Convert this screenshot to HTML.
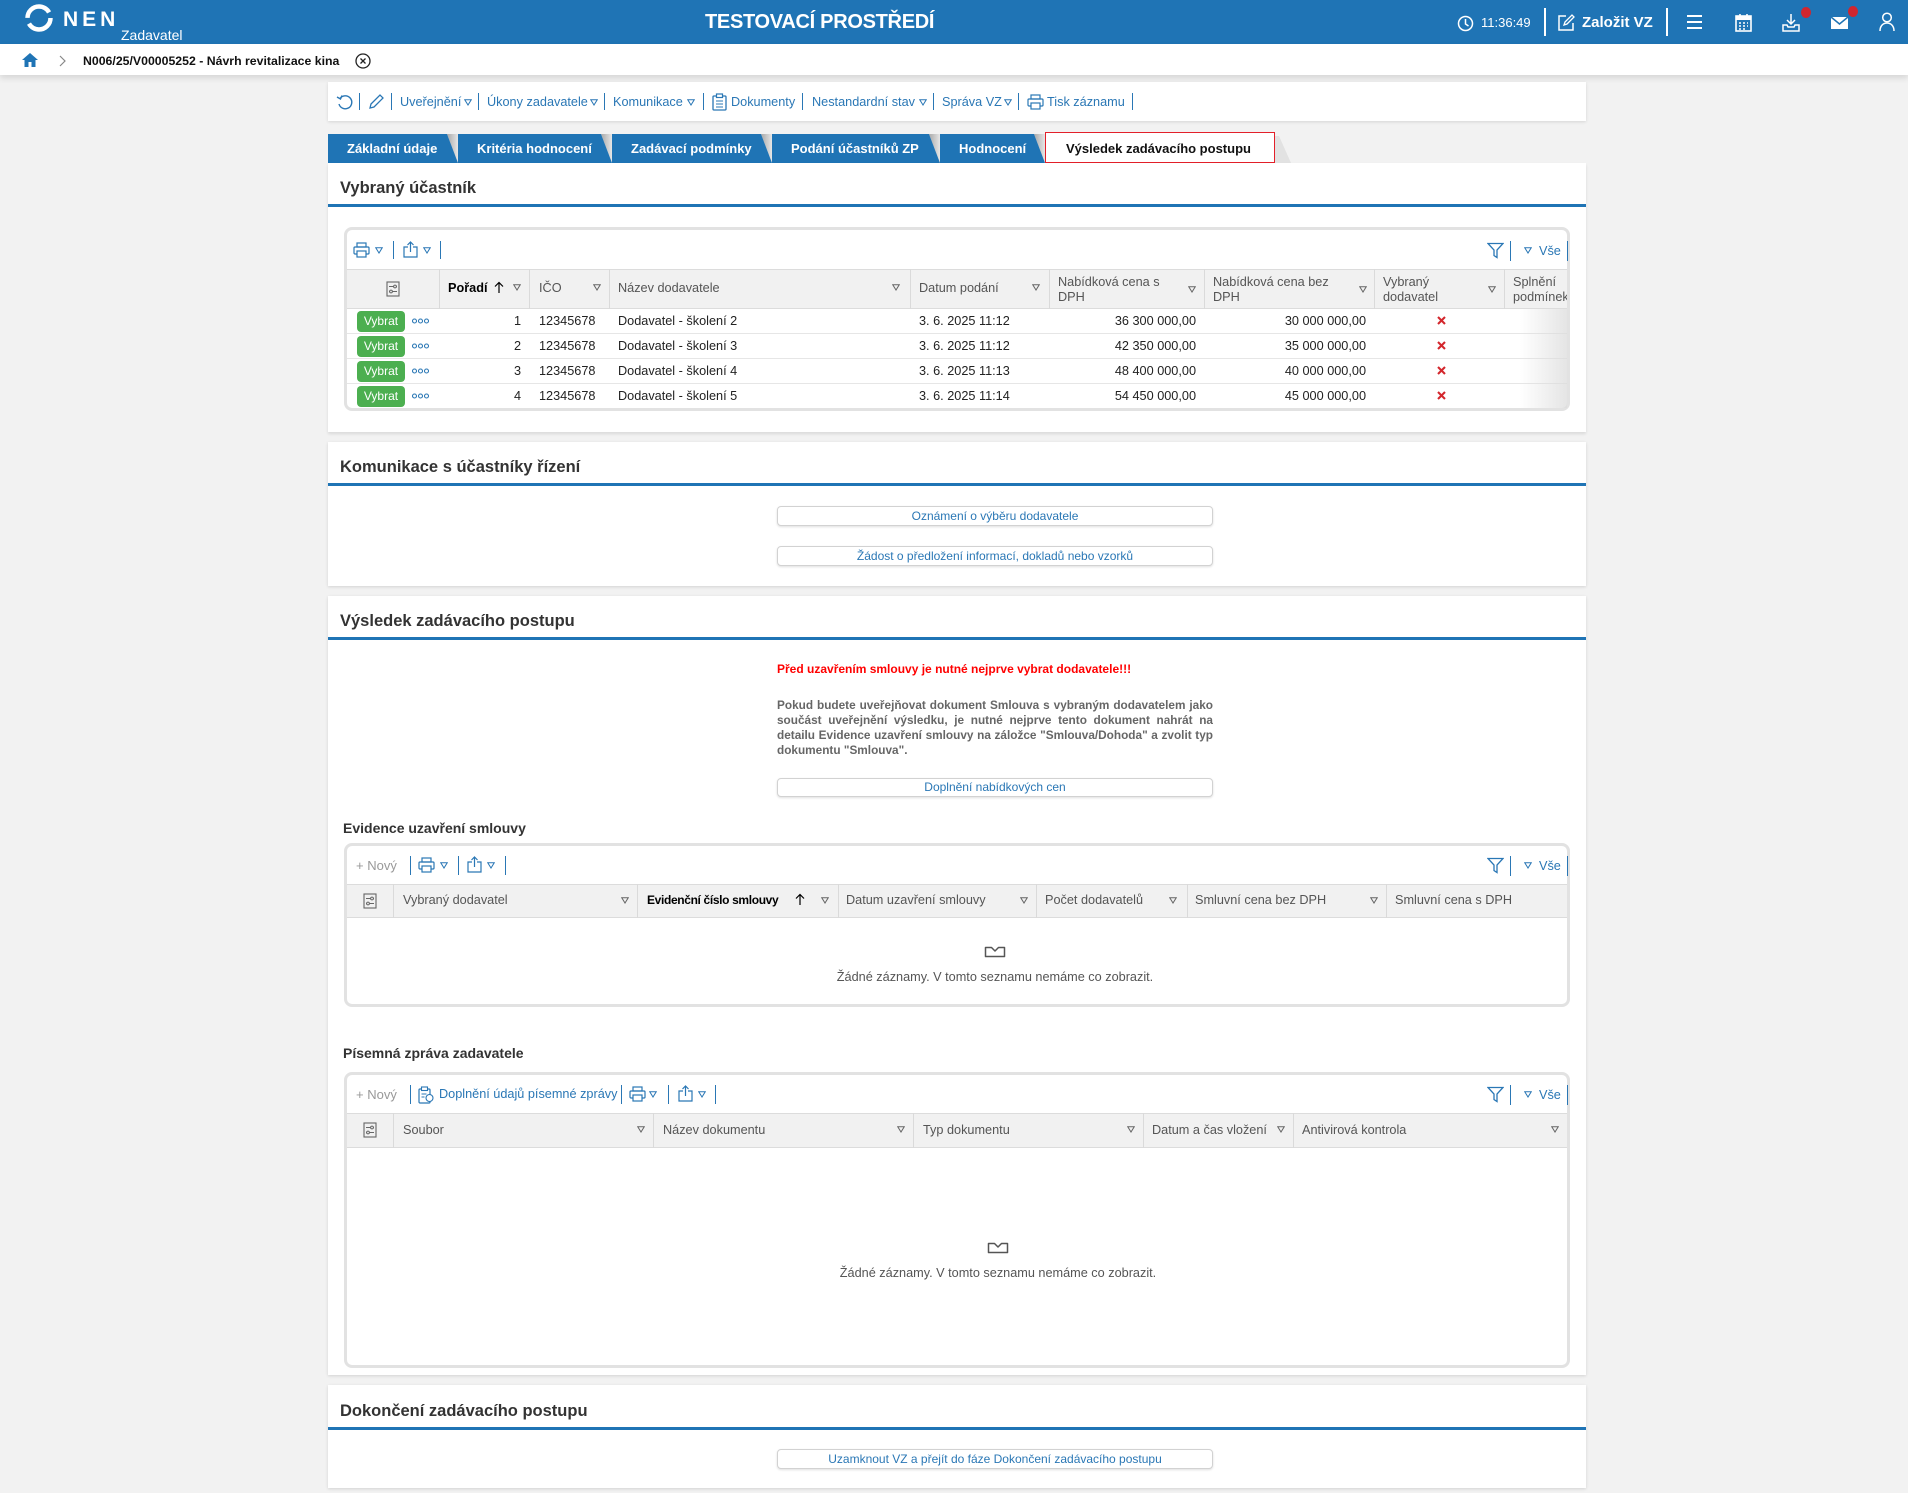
<!DOCTYPE html>
<html><head><meta charset="utf-8">
<style>
*{box-sizing:border-box;margin:0;padding:0}
body{width:1908px;height:1493px;overflow:hidden;background:#f2f2f2;font-family:"Liberation Sans",Arial,sans-serif;position:relative;color:#222}
.a{position:absolute}
.t{position:absolute;white-space:nowrap;font-size:12.7px;line-height:15px}
.bl{color:#2a77b5}
.sep{position:absolute;width:1px;background:#2a77b5}
.panel{position:absolute;left:328px;width:1258px;background:#fff;box-shadow:0 1px 3px rgba(0,0,0,.13)}
.ptitle{position:absolute;left:340px;font-size:16.5px;font-weight:bold;color:#333;line-height:20px;white-space:nowrap}
.pline{position:absolute;left:328px;width:1258px;height:3px;background:#1f74b5}
.card{position:absolute;left:344px;width:1226px;border:3px solid #e2e2e2;border-radius:8px;background:#fff}
.btn{position:absolute;left:777px;width:436px;border:1px solid #d2d2d2;border-radius:4px;background:#fff;box-shadow:0 1px 2px rgba(0,0,0,.13);text-align:center;font-size:12px;color:#2a77b5;white-space:nowrap}
.hdr{position:absolute;left:347px;width:1220px;background:#f1f1f1;border-top:1px solid #dcdcdc;border-bottom:1px solid #dcdcdc}
.vl{position:absolute;width:1px;background:#dadada}
.hc{position:absolute;color:#555;font-size:12.7px;white-space:nowrap;line-height:15px}
.rl{position:absolute;left:347px;width:1220px;height:1px;background:#e6e6e6}
.tab{position:absolute;top:141px;color:#fff;font-weight:bold;font-size:13px;line-height:15px;white-space:nowrap}
.vy{position:absolute;left:357px;width:48px;height:21px;background:#4caf50;border-radius:4px;color:#fff;font-size:12px;line-height:21px;text-align:center}
.sub{position:absolute;left:343px;font-size:14px;font-weight:bold;color:#333;line-height:16px;white-space:nowrap}
.empt{position:absolute;left:745px;width:500px;text-align:center;color:#555;font-size:12.7px;line-height:15px}
.para{position:absolute;left:777px;width:436px;font-size:11.8px;font-weight:bold;color:#666;line-height:15px;white-space:nowrap}
</style></head>
<body>

<!-- HEADER -->
<div class="a" style="left:0;top:0;width:1908px;height:44px;background:#1f74b5"></div>
<svg class="a" style="left:24px;top:3px" width="30" height="30" viewBox="0 0 30 30">
  <circle cx="15" cy="15" r="11.5" fill="none" stroke="#fff" stroke-width="4.5" stroke-dasharray="30 6 30 6"/>
</svg>
<div class="a" style="left:63px;top:9px;color:#fff;font-weight:bold;font-size:21px;line-height:21px;letter-spacing:4px">NEN</div>
<div class="a" style="left:121px;top:28px;color:#fff;font-size:14px;line-height:14px">Zadavatel</div>
<div class="a" style="left:705px;top:12px;color:#fff;font-weight:bold;font-size:20px;line-height:20px;letter-spacing:-0.3px;white-space:nowrap">TESTOVACÍ PROSTŘEDÍ</div>
<svg class="a" style="left:1457px;top:15px" width="17" height="17" viewBox="0 0 17 17"><circle cx="8.5" cy="8.5" r="7" fill="none" stroke="#fff" stroke-width="1.5"/><path d="M8.5 4v5l3 2" fill="none" stroke="#fff" stroke-width="1.5"/></svg>
<div class="a" style="left:1481px;top:15px;color:#fff;font-size:13px;line-height:16px">11:36:49</div>
<div class="a" style="left:1544px;top:8px;width:2px;height:28px;background:#fff"></div>
<svg class="a" style="left:1557px;top:14px" width="18" height="18" viewBox="0 0 18 18"><path d="M9 2H2v14h14V9" fill="none" stroke="#fff" stroke-width="1.5"/><path d="M7 11l1-3 7-7 2 2-7 7z" fill="none" stroke="#fff" stroke-width="1.3"/></svg>
<div class="a" style="left:1582px;top:14px;color:#fff;font-weight:bold;font-size:15px;line-height:17px;white-space:nowrap">Založit VZ</div>
<div class="a" style="left:1666px;top:8px;width:2px;height:28px;background:#fff"></div>
<div class="a" style="left:1687px;top:15px;width:15px;height:2px;background:#fff"></div>
<div class="a" style="left:1687px;top:21px;width:15px;height:2px;background:#fff"></div>
<div class="a" style="left:1687px;top:27px;width:15px;height:2px;background:#fff"></div>
<svg class="a" style="left:1735px;top:13px" width="17" height="19" viewBox="0 0 17 19"><rect x="1" y="3" width="15" height="15" fill="none" stroke="#fff" stroke-width="1.6"/><rect x="1" y="3" width="15" height="4" fill="#fff"/><path d="M5 1v4M12 1v4" stroke="#fff" stroke-width="1.6"/><path d="M4 10h2M8 10h2M12 10h1M4 13h2M8 13h2M12 13h1M4 16h2M8 16h2" stroke="#fff" stroke-width="1.5"/></svg>
<svg class="a" style="left:1782px;top:13px" width="18" height="19" viewBox="0 0 18 19"><path d="M9 1v10M5 7l4 4 4-4" fill="none" stroke="#fff" stroke-width="1.5"/><path d="M1 12v6h16v-6h-4l-1 2H6l-1-2z" fill="none" stroke="#fff" stroke-width="1.5"/></svg>
<div class="a" style="left:1801px;top:7px;width:10px;height:11px;border-radius:50%;background:#d0262f"></div>
<svg class="a" style="left:1830px;top:16px" width="19" height="14" viewBox="0 0 19 14"><rect x="1" y="1" width="17" height="12" fill="#fff"/><path d="M1 1l8.5 7L18 1" fill="none" stroke="#1f74b5" stroke-width="1.5"/></svg>
<div class="a" style="left:1848px;top:6px;width:10px;height:11px;border-radius:50%;background:#d0262f"></div>
<svg class="a" style="left:1879px;top:12px" width="16" height="20" viewBox="0 0 16 20"><circle cx="8" cy="5.5" r="4.3" fill="none" stroke="#fff" stroke-width="1.5"/><path d="M1 19c0-5 3-8 7-8s7 3 7 8" fill="none" stroke="#fff" stroke-width="1.5"/></svg>

<!-- BREADCRUMB -->
<div class="a" style="left:0;top:44px;width:1908px;height:31px;background:#fff;box-shadow:0 3px 6px rgba(0,0,0,.12)"></div>
<svg class="a" style="left:21px;top:52px" width="18" height="16" viewBox="0 0 18 16"><path d="M9 1L1 8h2.5v7h4v-5h3v5h4V8H17z" fill="#1f74b5"/></svg>
<svg class="a" style="left:59px;top:55px" width="7" height="12" viewBox="0 0 7 12"><path d="M1 1l5 5-5 5" fill="none" stroke="#888" stroke-width="1.2"/></svg>
<div class="a" style="left:83px;top:53px;font-weight:bold;font-size:12.3px;line-height:16px;color:#111;white-space:nowrap">N006/25/V00005252 - Návrh revitalizace kina</div>
<svg class="a" style="left:355px;top:53px" width="16" height="16" viewBox="0 0 16 16"><circle cx="8" cy="8" r="7" fill="none" stroke="#222" stroke-width="1.3"/><path d="M5.5 5.5l5 5M10.5 5.5l-5 5" stroke="#222" stroke-width="1.3"/></svg>

<!-- PAGE TOOLBAR -->
<div class="a" style="left:328px;top:82px;width:1258px;height:39px;background:#fff;box-shadow:0 1px 3px rgba(0,0,0,.12)"></div>
<svg class="a" style="left:336px;top:94px" width="18" height="17" viewBox="0 0 18 17"><path d="M4 4.5A6.5 6.5 0 1 1 3 10" fill="none" stroke="#2a77b5" stroke-width="1.4"/><path d="M1 3l3.5 2L6 1.5" fill="none" stroke="#2a77b5" stroke-width="1.4"/></svg>
<div class="sep" style="left:359px;top:93px;height:17px"></div>
<svg class="a" style="left:368px;top:93px" width="17" height="17" viewBox="0 0 17 17"><path d="M2 15l1-4L12 2l3 3-9 9z" fill="none" stroke="#2a77b5" stroke-width="1.3"/></svg>
<div class="sep" style="left:391px;top:93px;height:17px"></div>
<div class="t bl" style="left:400px;top:94.5px">Uveřejnění</div>
<svg class="a" style="left:464px;top:99px" width="8" height="7" viewBox="0 0 8 7"><path d="M0.7 0.7h6.6L4 6z" fill="none" stroke="#2a77b5" stroke-width="1"/></svg>
<div class="sep" style="left:478px;top:93px;height:17px"></div>
<div class="t bl" style="left:487px;top:94.5px">Úkony zadavatele</div>
<svg class="a" style="left:590px;top:99px" width="8" height="7" viewBox="0 0 8 7"><path d="M0.7 0.7h6.6L4 6z" fill="none" stroke="#2a77b5" stroke-width="1"/></svg>
<div class="sep" style="left:604px;top:93px;height:17px"></div>
<div class="t bl" style="left:613px;top:94.5px">Komunikace</div>
<svg class="a" style="left:687px;top:99px" width="8" height="7" viewBox="0 0 8 7"><path d="M0.7 0.7h6.6L4 6z" fill="none" stroke="#2a77b5" stroke-width="1"/></svg>
<div class="sep" style="left:703px;top:93px;height:17px"></div>
<svg class="a" style="left:712px;top:93px" width="15" height="18" viewBox="0 0 15 18"><rect x="1" y="3" width="13" height="14" rx="1" fill="none" stroke="#2a77b5" stroke-width="1.3"/><rect x="4.5" y="1" width="6" height="3.5" fill="#fff" stroke="#2a77b5" stroke-width="1.2"/><path d="M4 8h7M4 11h7M4 14h7" stroke="#2a77b5" stroke-width="1.1"/></svg>
<div class="t bl" style="left:731px;top:94.5px">Dokumenty</div>
<div class="sep" style="left:802px;top:93px;height:17px"></div>
<div class="t bl" style="left:812px;top:94.5px">Nestandardní stav</div>
<svg class="a" style="left:919px;top:99px" width="8" height="7" viewBox="0 0 8 7"><path d="M0.7 0.7h6.6L4 6z" fill="none" stroke="#2a77b5" stroke-width="1"/></svg>
<div class="sep" style="left:933px;top:93px;height:17px"></div>
<div class="t bl" style="left:942px;top:94.5px">Správa VZ</div>
<svg class="a" style="left:1004px;top:99px" width="8" height="7" viewBox="0 0 8 7"><path d="M0.7 0.7h6.6L4 6z" fill="none" stroke="#2a77b5" stroke-width="1"/></svg>
<div class="sep" style="left:1018px;top:93px;height:17px"></div>
<svg class="a" style="left:1027px;top:94px" width="17" height="16" viewBox="0 0 17 16"><rect x="4" y="1" width="9" height="4" fill="none" stroke="#2a77b5" stroke-width="1.2"/><rect x="1" y="5" width="15" height="7" rx="1" fill="none" stroke="#2a77b5" stroke-width="1.2"/><rect x="4" y="9" width="9" height="6" fill="#fff" stroke="#2a77b5" stroke-width="1.2"/></svg>
<div class="t bl" style="left:1047px;top:94.5px">Tisk záznamu</div>
<div class="sep" style="left:1132px;top:93px;height:17px"></div>

<!-- TABS -->
<svg class="a" style="left:328px;top:132px" width="980" height="31" viewBox="0 0 980 31">
  <defs><linearGradient id="sh" x1="0" y1="0" x2="1" y2="0"><stop offset="0" stop-color="#a9a9a9"/><stop offset="1" stop-color="#e6e6e6"/></linearGradient></defs>
  <polygon points="119,2 130,2 130,31" fill="url(#sh)"/>
  <polygon points="273,2 284,2 284,31" fill="url(#sh)"/>
  <polygon points="433,2 444,2 444,31" fill="url(#sh)"/>
  <polygon points="601,2 612,2 612,31" fill="url(#sh)"/>
  <polygon points="706,2 717,2 717,31" fill="url(#sh)"/>
  <polygon points="0,2 119,2 130,31 0,31" fill="#1f74b5"/>
  <polygon points="130,2 273,2 284,31 130,31" fill="#1f74b5"/>
  <polygon points="284,2 433,2 444,31 284,31" fill="#1f74b5"/>
  <polygon points="444,2 601,2 612,31 444,31" fill="#1f74b5"/>
  <polygon points="612,2 706,2 717,31 612,31" fill="#1f74b5"/>
  <polygon points="946,4 951,4 963,31 946,31" fill="#e2e2e2"/>
  <rect x="717.5" y="0.5" width="229" height="30" fill="#fff" stroke="#e3202a" stroke-width="1"/>
</svg>
<div class="tab" style="left:347px">Základní údaje</div>
<div class="tab" style="left:477px">Kritéria hodnocení</div>
<div class="tab" style="left:631px">Zadávací podmínky</div>
<div class="tab" style="left:791px">Podání účastníků ZP</div>
<div class="tab" style="left:959px">Hodnocení</div>
<div class="tab" style="left:1066px;color:#111">Výsledek zadávacího postupu</div>

<!-- PANEL 1 -->
<div class="panel" style="top:163px;height:269px;box-shadow:0 2px 3px rgba(0,0,0,.1)"></div>
<div class="ptitle" style="top:178px">Vybraný účastník</div>
<div class="pline" style="top:204px"></div>

<div class="card" style="top:227px;height:184px"></div>
<svg class="a" style="left:353px;top:242px" width="17" height="16" viewBox="0 0 17 16"><rect x="4" y="1" width="9" height="4" fill="none" stroke="#2a77b5" stroke-width="1.2"/><rect x="1" y="5" width="15" height="7" rx="1" fill="none" stroke="#2a77b5" stroke-width="1.2"/><rect x="4" y="9" width="9" height="6" fill="#fff" stroke="#2a77b5" stroke-width="1.2"/></svg>
<svg class="a" style="left:375px;top:247px" width="8" height="7" viewBox="0 0 8 7"><path d="M0.7 0.7h6.6L4 6z" fill="none" stroke="#2a77b5" stroke-width="1"/></svg>
<div class="sep" style="left:393px;top:241px;height:18px"></div>
<svg class="a" style="left:403px;top:241px" width="15" height="17" viewBox="0 0 15 17"><path d="M5 6H1v10h13V6h-4" fill="none" stroke="#2a77b5" stroke-width="1.2"/><path d="M7.5 11V1M4.5 4l3-3 3 3" fill="none" stroke="#2a77b5" stroke-width="1.2"/></svg>
<svg class="a" style="left:423px;top:247px" width="8" height="7" viewBox="0 0 8 7"><path d="M0.7 0.7h6.6L4 6z" fill="none" stroke="#2a77b5" stroke-width="1"/></svg>
<div class="sep" style="left:440px;top:241px;height:18px"></div>
<svg class="a" style="left:1487px;top:242px" width="17" height="17" viewBox="0 0 17 17"><path d="M1 1.5h15L10 8v7.5L7 13.5V8z" fill="none" stroke="#2a77b5" stroke-width="1.3"/></svg>
<div class="sep" style="left:1510px;top:241px;height:20px"></div>
<svg class="a" style="left:1524px;top:247px" width="8" height="7" viewBox="0 0 8 7"><path d="M0.7 0.7h6.6L4 6z" fill="none" stroke="#2a77b5" stroke-width="1"/></svg>
<div class="t bl" style="left:1539px;top:244px">Vše</div>
<div class="sep" style="left:1567px;top:241px;height:20px"></div>

<div class="hdr" style="top:269px;height:40px"></div>
<div class="vl" style="left:439px;top:269px;height:40px"></div>
<div class="vl" style="left:529px;top:269px;height:40px"></div>
<div class="vl" style="left:609px;top:269px;height:40px"></div>
<div class="vl" style="left:910px;top:269px;height:40px"></div>
<div class="vl" style="left:1049px;top:269px;height:40px"></div>
<div class="vl" style="left:1204px;top:269px;height:40px"></div>
<div class="vl" style="left:1374px;top:269px;height:40px"></div>
<div class="vl" style="left:1504px;top:269px;height:40px"></div>
<svg class="a" style="left:386px;top:281px" width="14" height="16" viewBox="0 0 14 16"><rect x="1" y="1" width="12" height="14" fill="none" stroke="#666" stroke-width="1.1"/><path d="M3 5.5h8M3 10.5h8" stroke="#666" stroke-width="1"/><circle cx="9" cy="5.5" r="1.4" fill="#f1f1f1" stroke="#666"/><circle cx="5" cy="10.5" r="1.4" fill="#f1f1f1" stroke="#666"/></svg>
<div class="hc" style="left:448px;top:281px;color:#000;font-weight:bold">Pořadí</div>
<svg class="a" style="left:494px;top:281px" width="10" height="13" viewBox="0 0 10 13"><path d="M5 12V1.5M1 5.5l4-4 4 4" fill="none" stroke="#000" stroke-width="1.2"/></svg>
<svg class="a" style="left:513px;top:284px" width="8" height="7" viewBox="0 0 8 7"><path d="M0.7 0.7h6.6L4 6z" fill="none" stroke="#666" stroke-width="1"/></svg>
<div class="hc" style="left:539px;top:281px">IČO</div>
<svg class="a" style="left:593px;top:284px" width="8" height="7" viewBox="0 0 8 7"><path d="M0.7 0.7h6.6L4 6z" fill="none" stroke="#666" stroke-width="1"/></svg>
<div class="hc" style="left:618px;top:281px">Název dodavatele</div>
<svg class="a" style="left:892px;top:284px" width="8" height="7" viewBox="0 0 8 7"><path d="M0.7 0.7h6.6L4 6z" fill="none" stroke="#666" stroke-width="1"/></svg>
<div class="hc" style="left:919px;top:281px">Datum podání</div>
<svg class="a" style="left:1032px;top:284px" width="8" height="7" viewBox="0 0 8 7"><path d="M0.7 0.7h6.6L4 6z" fill="none" stroke="#666" stroke-width="1"/></svg>
<div class="hc" style="left:1058px;top:274.5px">Nabídková cena s<br>DPH</div>
<svg class="a" style="left:1188px;top:286px" width="8" height="7" viewBox="0 0 8 7"><path d="M0.7 0.7h6.6L4 6z" fill="none" stroke="#666" stroke-width="1"/></svg>
<div class="hc" style="left:1213px;top:274.5px">Nabídková cena bez<br>DPH</div>
<svg class="a" style="left:1359px;top:286px" width="8" height="7" viewBox="0 0 8 7"><path d="M0.7 0.7h6.6L4 6z" fill="none" stroke="#666" stroke-width="1"/></svg>
<div class="hc" style="left:1383px;top:274.5px">Vybraný<br>dodavatel</div>
<svg class="a" style="left:1488px;top:286px" width="8" height="7" viewBox="0 0 8 7"><path d="M0.7 0.7h6.6L4 6z" fill="none" stroke="#666" stroke-width="1"/></svg>
<div class="a" style="left:1505px;top:269px;width:62px;height:40px;overflow:hidden"><div class="hc" style="left:8px;top:5.5px">Splnění<br>podmínek</div></div>

<div class="rl" style="top:333px"></div>
<div class="rl" style="top:358px"></div>
<div class="rl" style="top:383px"></div>

<div class="vy" style="top:311px">Vybrat</div>
<div class="vy" style="top:336px">Vybrat</div>
<div class="vy" style="top:361px">Vybrat</div>
<div class="vy" style="top:386px">Vybrat</div>
<svg class="a" style="left:412px;top:318px" width="17" height="6" viewBox="0 0 17 6"><circle cx="2.5" cy="3" r="2" fill="none" stroke="#2a77b5" stroke-width="1.1"/><circle cx="8.5" cy="3" r="2" fill="none" stroke="#2a77b5" stroke-width="1.1"/><circle cx="14.5" cy="3" r="2" fill="none" stroke="#2a77b5" stroke-width="1.1"/></svg>
<svg class="a" style="left:412px;top:343px" width="17" height="6" viewBox="0 0 17 6"><circle cx="2.5" cy="3" r="2" fill="none" stroke="#2a77b5" stroke-width="1.1"/><circle cx="8.5" cy="3" r="2" fill="none" stroke="#2a77b5" stroke-width="1.1"/><circle cx="14.5" cy="3" r="2" fill="none" stroke="#2a77b5" stroke-width="1.1"/></svg>
<svg class="a" style="left:412px;top:368px" width="17" height="6" viewBox="0 0 17 6"><circle cx="2.5" cy="3" r="2" fill="none" stroke="#2a77b5" stroke-width="1.1"/><circle cx="8.5" cy="3" r="2" fill="none" stroke="#2a77b5" stroke-width="1.1"/><circle cx="14.5" cy="3" r="2" fill="none" stroke="#2a77b5" stroke-width="1.1"/></svg>
<svg class="a" style="left:412px;top:393px" width="17" height="6" viewBox="0 0 17 6"><circle cx="2.5" cy="3" r="2" fill="none" stroke="#2a77b5" stroke-width="1.1"/><circle cx="8.5" cy="3" r="2" fill="none" stroke="#2a77b5" stroke-width="1.1"/><circle cx="14.5" cy="3" r="2" fill="none" stroke="#2a77b5" stroke-width="1.1"/></svg>

<div class="t" style="left:439px;width:82px;text-align:right;top:313.6px">1</div>
<div class="t" style="left:539px;top:313.6px">12345678</div>
<div class="t" style="left:618px;top:313.6px">Dodavatel - školení 2</div>
<div class="t" style="left:919px;top:313.6px">3. 6. 2025 11:12</div>
<div class="t" style="left:1049px;width:147px;text-align:right;top:313.6px">36 300 000,00</div>
<div class="t" style="left:1204px;width:162px;text-align:right;top:313.6px">30 000 000,00</div>

<div class="t" style="left:439px;width:82px;text-align:right;top:338.6px">2</div>
<div class="t" style="left:539px;top:338.6px">12345678</div>
<div class="t" style="left:618px;top:338.6px">Dodavatel - školení 3</div>
<div class="t" style="left:919px;top:338.6px">3. 6. 2025 11:12</div>
<div class="t" style="left:1049px;width:147px;text-align:right;top:338.6px">42 350 000,00</div>
<div class="t" style="left:1204px;width:162px;text-align:right;top:338.6px">35 000 000,00</div>

<div class="t" style="left:439px;width:82px;text-align:right;top:363.6px">3</div>
<div class="t" style="left:539px;top:363.6px">12345678</div>
<div class="t" style="left:618px;top:363.6px">Dodavatel - školení 4</div>
<div class="t" style="left:919px;top:363.6px">3. 6. 2025 11:13</div>
<div class="t" style="left:1049px;width:147px;text-align:right;top:363.6px">48 400 000,00</div>
<div class="t" style="left:1204px;width:162px;text-align:right;top:363.6px">40 000 000,00</div>

<div class="t" style="left:439px;width:82px;text-align:right;top:388.6px">4</div>
<div class="t" style="left:539px;top:388.6px">12345678</div>
<div class="t" style="left:618px;top:388.6px">Dodavatel - školení 5</div>
<div class="t" style="left:919px;top:388.6px">3. 6. 2025 11:14</div>
<div class="t" style="left:1049px;width:147px;text-align:right;top:388.6px">54 450 000,00</div>
<div class="t" style="left:1204px;width:162px;text-align:right;top:388.6px">45 000 000,00</div>

<svg class="a" style="left:1437px;top:316px" width="9" height="9" viewBox="0 0 9 9"><path d="M1 1l7 7M8 1L1 8" stroke="#d3262c" stroke-width="2.1"/></svg>
<svg class="a" style="left:1437px;top:341px" width="9" height="9" viewBox="0 0 9 9"><path d="M1 1l7 7M8 1L1 8" stroke="#d3262c" stroke-width="2.1"/></svg>
<svg class="a" style="left:1437px;top:366px" width="9" height="9" viewBox="0 0 9 9"><path d="M1 1l7 7M8 1L1 8" stroke="#d3262c" stroke-width="2.1"/></svg>
<svg class="a" style="left:1437px;top:391px" width="9" height="9" viewBox="0 0 9 9"><path d="M1 1l7 7M8 1L1 8" stroke="#d3262c" stroke-width="2.1"/></svg>
<div class="a" style="left:1520px;top:309px;width:47px;height:99px;background:linear-gradient(to right,rgba(225,225,225,0),rgba(220,220,220,.75))"></div>

<!-- PANEL 2 -->
<div class="panel" style="top:442px;height:144px"></div>
<div class="ptitle" style="top:457px">Komunikace s účastníky řízení</div>
<div class="pline" style="top:483px"></div>
<div class="btn" style="top:506px;height:20px;line-height:18px">Oznámení o výběru dodavatele</div>
<div class="btn" style="top:546px;height:20px;line-height:18px">Žádost o předložení informací, dokladů nebo vzorků</div>

<!-- PANEL 3 -->
<div class="panel" style="top:596px;height:779px"></div>
<div class="ptitle" style="top:611px">Výsledek zadávacího postupu</div>
<div class="pline" style="top:637px"></div>
<div class="a" style="left:777px;top:662px;font-size:12px;font-weight:bold;color:#f00;line-height:15px;white-space:nowrap">Před uzavřením smlouvy je nutné nejprve vybrat dodavatele!!!</div>
<div class="para" style="top:697.5px;text-align:justify;text-align-last:justify">Pokud budete uveřejňovat dokument Smlouva s vybraným dodavatelem jako</div>
<div class="para" style="top:712.5px;text-align:justify;text-align-last:justify">součást uveřejnění výsledku, je nutné nejprve tento dokument nahrát na</div>
<div class="para" style="top:727.5px;text-align:justify;text-align-last:justify">detailu Evidence uzavření smlouvy na záložce "Smlouva/Dohoda" a zvolit typ</div>
<div class="para" style="top:742.5px">dokumentu "Smlouva".</div>
<div class="btn" style="top:778px;height:19px;line-height:17px">Doplnění nabídkových cen</div>

<div class="sub" style="top:820px">Evidence uzavření smlouvy</div>
<div class="card" style="top:843px;height:164px"></div>
<div class="t" style="left:356px;top:858px;color:#999;font-size:13px">+ Nový</div>
<div class="sep" style="left:410px;top:856px;height:19px"></div>
<svg class="a" style="left:418px;top:857px" width="17" height="16" viewBox="0 0 17 16"><rect x="4" y="1" width="9" height="4" fill="none" stroke="#2a77b5" stroke-width="1.2"/><rect x="1" y="5" width="15" height="7" rx="1" fill="none" stroke="#2a77b5" stroke-width="1.2"/><rect x="4" y="9" width="9" height="6" fill="#fff" stroke="#2a77b5" stroke-width="1.2"/></svg>
<svg class="a" style="left:440px;top:862px" width="8" height="7" viewBox="0 0 8 7"><path d="M0.7 0.7h6.6L4 6z" fill="none" stroke="#2a77b5" stroke-width="1"/></svg>
<div class="sep" style="left:458px;top:856px;height:19px"></div>
<svg class="a" style="left:467px;top:856px" width="15" height="17" viewBox="0 0 15 17"><path d="M5 6H1v10h13V6h-4" fill="none" stroke="#2a77b5" stroke-width="1.2"/><path d="M7.5 11V1M4.5 4l3-3 3 3" fill="none" stroke="#2a77b5" stroke-width="1.2"/></svg>
<svg class="a" style="left:487px;top:862px" width="8" height="7" viewBox="0 0 8 7"><path d="M0.7 0.7h6.6L4 6z" fill="none" stroke="#2a77b5" stroke-width="1"/></svg>
<div class="sep" style="left:505px;top:856px;height:19px"></div>
<svg class="a" style="left:1487px;top:857px" width="17" height="17" viewBox="0 0 17 17"><path d="M1 1.5h15L10 8v7.5L7 13.5V8z" fill="none" stroke="#2a77b5" stroke-width="1.3"/></svg>
<div class="sep" style="left:1510px;top:856px;height:20px"></div>
<svg class="a" style="left:1524px;top:862px" width="8" height="7" viewBox="0 0 8 7"><path d="M0.7 0.7h6.6L4 6z" fill="none" stroke="#2a77b5" stroke-width="1"/></svg>
<div class="t bl" style="left:1539px;top:859px">Vše</div>
<div class="sep" style="left:1567px;top:856px;height:20px"></div>

<div class="hdr" style="top:884px;height:34px"></div>
<div class="vl" style="left:393px;top:884px;height:34px"></div>
<div class="vl" style="left:637px;top:884px;height:34px"></div>
<div class="vl" style="left:838px;top:884px;height:34px"></div>
<div class="vl" style="left:1036px;top:884px;height:34px"></div>
<div class="vl" style="left:1187px;top:884px;height:34px"></div>
<div class="vl" style="left:1386px;top:884px;height:34px"></div>
<svg class="a" style="left:363px;top:893px" width="14" height="16" viewBox="0 0 14 16"><rect x="1" y="1" width="12" height="14" fill="none" stroke="#666" stroke-width="1.1"/><path d="M3 5.5h8M3 10.5h8" stroke="#666" stroke-width="1"/><circle cx="9" cy="5.5" r="1.4" fill="#f1f1f1" stroke="#666"/><circle cx="5" cy="10.5" r="1.4" fill="#f1f1f1" stroke="#666"/></svg>
<div class="hc" style="left:403px;top:893px">Vybraný dodavatel</div>
<svg class="a" style="left:621px;top:897px" width="8" height="7" viewBox="0 0 8 7"><path d="M0.7 0.7h6.6L4 6z" fill="none" stroke="#666" stroke-width="1"/></svg>
<div class="hc" style="left:647px;top:893px;color:#000;font-weight:bold;font-size:12px;letter-spacing:-0.35px">Evidenční číslo smlouvy</div>
<svg class="a" style="left:795px;top:893px" width="10" height="13" viewBox="0 0 10 13"><path d="M5 12V1.5M1 5.5l4-4 4 4" fill="none" stroke="#000" stroke-width="1.2"/></svg>
<svg class="a" style="left:821px;top:897px" width="8" height="7" viewBox="0 0 8 7"><path d="M0.7 0.7h6.6L4 6z" fill="none" stroke="#666" stroke-width="1"/></svg>
<div class="hc" style="left:846px;top:893px">Datum uzavření smlouvy</div>
<svg class="a" style="left:1020px;top:897px" width="8" height="7" viewBox="0 0 8 7"><path d="M0.7 0.7h6.6L4 6z" fill="none" stroke="#666" stroke-width="1"/></svg>
<div class="hc" style="left:1045px;top:893px">Počet dodavatelů</div>
<svg class="a" style="left:1169px;top:897px" width="8" height="7" viewBox="0 0 8 7"><path d="M0.7 0.7h6.6L4 6z" fill="none" stroke="#666" stroke-width="1"/></svg>
<div class="hc" style="left:1195px;top:893px">Smluvní cena bez DPH</div>
<svg class="a" style="left:1370px;top:897px" width="8" height="7" viewBox="0 0 8 7"><path d="M0.7 0.7h6.6L4 6z" fill="none" stroke="#666" stroke-width="1"/></svg>
<div class="hc" style="left:1395px;top:893px">Smluvní cena s DPH</div>
<svg class="a" style="left:984px;top:946px" width="22" height="12" viewBox="0 0 22 12"><path d="M1.5 1.5h6l3.5 3.5 3.5-3.5h6v9h-19z" fill="none" stroke="#555" stroke-width="1.5" stroke-linejoin="round"/></svg>
<div class="empt" style="top:970px">Žádné záznamy. V tomto seznamu nemáme co zobrazit.</div>

<div class="sub" style="top:1045px">Písemná zpráva zadavatele</div>
<div class="card" style="top:1072px;height:296px"></div>
<div class="t" style="left:356px;top:1087px;color:#999;font-size:13px">+ Nový</div>
<div class="sep" style="left:410px;top:1085px;height:19px"></div>
<svg class="a" style="left:418px;top:1086px" width="16" height="18" viewBox="0 0 16 18"><rect x="1" y="3" width="11" height="14" rx="1" fill="none" stroke="#2a77b5" stroke-width="1.2"/><rect x="3.5" y="1" width="6" height="3.5" fill="#fff" stroke="#2a77b5" stroke-width="1.1"/><circle cx="11.5" cy="12" r="3.5" fill="#fff" stroke="#2a77b5" stroke-width="1.1"/><path d="M3.5 8h5M3.5 11h3" stroke="#2a77b5" stroke-width="1"/></svg>
<div class="t bl" style="left:439px;top:1087px">Doplnění údajů písemné zprávy</div>
<div class="sep" style="left:621px;top:1085px;height:19px"></div>
<svg class="a" style="left:629px;top:1086px" width="17" height="16" viewBox="0 0 17 16"><rect x="4" y="1" width="9" height="4" fill="none" stroke="#2a77b5" stroke-width="1.2"/><rect x="1" y="5" width="15" height="7" rx="1" fill="none" stroke="#2a77b5" stroke-width="1.2"/><rect x="4" y="9" width="9" height="6" fill="#fff" stroke="#2a77b5" stroke-width="1.2"/></svg>
<svg class="a" style="left:649px;top:1091px" width="8" height="7" viewBox="0 0 8 7"><path d="M0.7 0.7h6.6L4 6z" fill="none" stroke="#2a77b5" stroke-width="1"/></svg>
<div class="sep" style="left:668px;top:1085px;height:19px"></div>
<svg class="a" style="left:678px;top:1085px" width="15" height="17" viewBox="0 0 15 17"><path d="M5 6H1v10h13V6h-4" fill="none" stroke="#2a77b5" stroke-width="1.2"/><path d="M7.5 11V1M4.5 4l3-3 3 3" fill="none" stroke="#2a77b5" stroke-width="1.2"/></svg>
<svg class="a" style="left:698px;top:1091px" width="8" height="7" viewBox="0 0 8 7"><path d="M0.7 0.7h6.6L4 6z" fill="none" stroke="#2a77b5" stroke-width="1"/></svg>
<div class="sep" style="left:715px;top:1085px;height:19px"></div>
<svg class="a" style="left:1487px;top:1086px" width="17" height="17" viewBox="0 0 17 17"><path d="M1 1.5h15L10 8v7.5L7 13.5V8z" fill="none" stroke="#2a77b5" stroke-width="1.3"/></svg>
<div class="sep" style="left:1510px;top:1085px;height:20px"></div>
<svg class="a" style="left:1524px;top:1091px" width="8" height="7" viewBox="0 0 8 7"><path d="M0.7 0.7h6.6L4 6z" fill="none" stroke="#2a77b5" stroke-width="1"/></svg>
<div class="t bl" style="left:1539px;top:1088px">Vše</div>
<div class="sep" style="left:1567px;top:1085px;height:20px"></div>

<div class="hdr" style="top:1113px;height:35px"></div>
<div class="vl" style="left:393px;top:1113px;height:35px"></div>
<div class="vl" style="left:653px;top:1113px;height:35px"></div>
<div class="vl" style="left:913px;top:1113px;height:35px"></div>
<div class="vl" style="left:1143px;top:1113px;height:35px"></div>
<div class="vl" style="left:1293px;top:1113px;height:35px"></div>
<svg class="a" style="left:363px;top:1122px" width="14" height="16" viewBox="0 0 14 16"><rect x="1" y="1" width="12" height="14" fill="none" stroke="#666" stroke-width="1.1"/><path d="M3 5.5h8M3 10.5h8" stroke="#666" stroke-width="1"/><circle cx="9" cy="5.5" r="1.4" fill="#f1f1f1" stroke="#666"/><circle cx="5" cy="10.5" r="1.4" fill="#f1f1f1" stroke="#666"/></svg>
<div class="hc" style="left:403px;top:1122.5px">Soubor</div>
<svg class="a" style="left:637px;top:1126px" width="8" height="7" viewBox="0 0 8 7"><path d="M0.7 0.7h6.6L4 6z" fill="none" stroke="#666" stroke-width="1"/></svg>
<div class="hc" style="left:663px;top:1122.5px">Název dokumentu</div>
<svg class="a" style="left:897px;top:1126px" width="8" height="7" viewBox="0 0 8 7"><path d="M0.7 0.7h6.6L4 6z" fill="none" stroke="#666" stroke-width="1"/></svg>
<div class="hc" style="left:923px;top:1122.5px">Typ dokumentu</div>
<svg class="a" style="left:1127px;top:1126px" width="8" height="7" viewBox="0 0 8 7"><path d="M0.7 0.7h6.6L4 6z" fill="none" stroke="#666" stroke-width="1"/></svg>
<div class="hc" style="left:1152px;top:1122.5px">Datum a čas vložení</div>
<svg class="a" style="left:1277px;top:1126px" width="8" height="7" viewBox="0 0 8 7"><path d="M0.7 0.7h6.6L4 6z" fill="none" stroke="#666" stroke-width="1"/></svg>
<div class="hc" style="left:1302px;top:1122.5px">Antivirová kontrola</div>
<svg class="a" style="left:1551px;top:1126px" width="8" height="7" viewBox="0 0 8 7"><path d="M0.7 0.7h6.6L4 6z" fill="none" stroke="#666" stroke-width="1"/></svg>
<svg class="a" style="left:987px;top:1242px" width="22" height="12" viewBox="0 0 22 12"><path d="M1.5 1.5h6l3.5 3.5 3.5-3.5h6v9h-19z" fill="none" stroke="#555" stroke-width="1.5" stroke-linejoin="round"/></svg>
<div class="empt" style="top:1266px;left:748px">Žádné záznamy. V tomto seznamu nemáme co zobrazit.</div>

<!-- PANEL 4 -->
<div class="panel" style="top:1385px;height:103px"></div>
<div class="ptitle" style="top:1401px">Dokončení zadávacího postupu</div>
<div class="pline" style="top:1427px"></div>
<div class="btn" style="top:1449px;height:20px;line-height:18px">Uzamknout VZ a přejít do fáze Dokončení zadávacího postupu</div>

</body></html>
